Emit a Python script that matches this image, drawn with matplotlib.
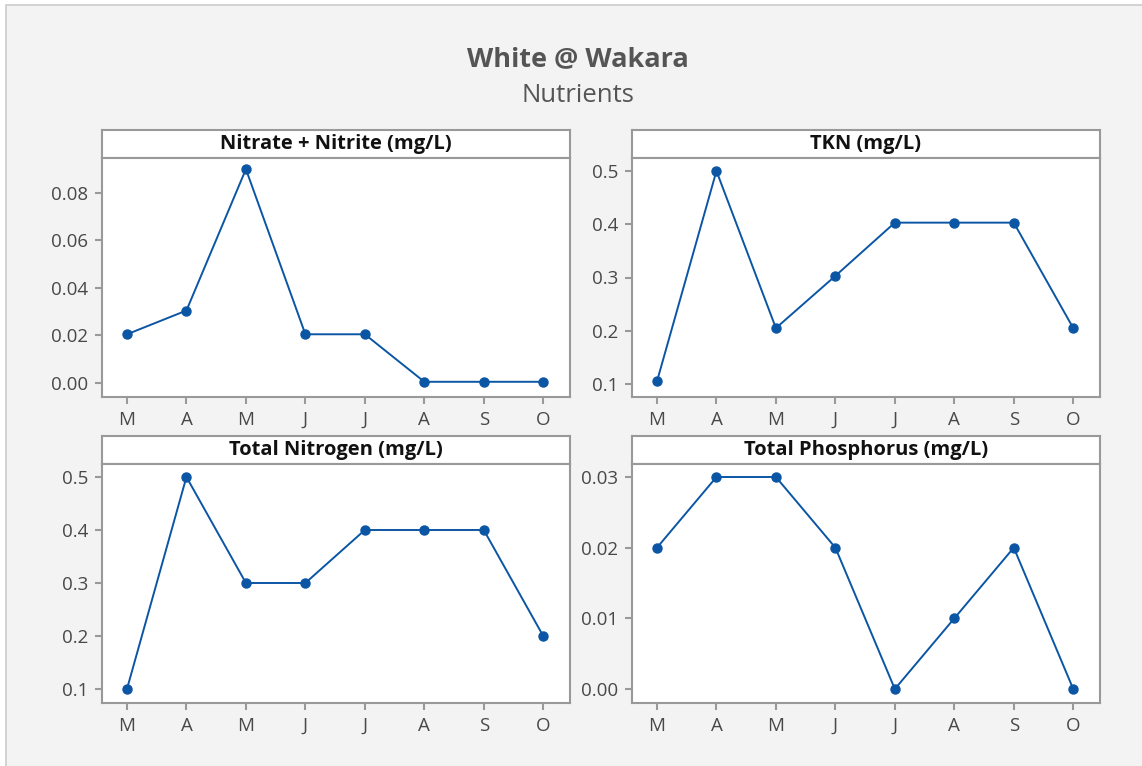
import matplotlib
matplotlib.use("Agg")
import matplotlib.pyplot as plt
from matplotlib.patches import Rectangle

plt.rcParams['font.family'] = ['Open Sans', 'DejaVu Sans']

months = ["M", "A", "M", "J", "J", "A", "S", "O"]
nitrate = [0.0205, 0.0305, 0.0900, 0.0205, 0.0205, 0.0005, 0.0005, 0.0005]
tkn = [0.105, 0.500, 0.205, 0.303, 0.403, 0.403, 0.403, 0.205]
total_n = [0.1, 0.5, 0.3, 0.3, 0.4, 0.4, 0.4, 0.2]
total_p = [0.02, 0.03, 0.03, 0.02, 0.0, 0.01, 0.02, 0.0]

titles = ["Nitrate + Nitrite (mg/L)", "TKN (mg/L)", "Total Nitrogen (mg/L)", "Total Phosphorus (mg/L)"]
series = [nitrate, tkn, total_n, total_p]
yticks = [[0.00, 0.02, 0.04, 0.06, 0.08], [0.1, 0.2, 0.3, 0.4, 0.5],
          [0.1, 0.2, 0.3, 0.4, 0.5], [0.00, 0.01, 0.02, 0.03]]
ytickfmt = ["{:.2f}", "{:.1f}", "{:.1f}", "{:.2f}"]
ylims = [(-0.0059, 0.0947), (0.0756, 0.5244), (0.0736, 0.5245), (-0.00198, 0.03184)]

W, H = 1142, 766
fig = plt.figure(figsize=(W / 100, H / 100), dpi=100)
fig.patch.set_facecolor("white")
fig.patches.append(Rectangle((6 / W, -0.1), 1.2, 1.1 - 5 / H, transform=fig.transFigure,
                             facecolor="#f3f3f3", edgecolor="#cccccc", linewidth=1.2, zorder=-10))

fig.text(578 / W, 1 - 59 / H, "White @ Wakara", ha="center", va="center",
         fontsize=19.5, fontweight="bold", color="#555555")
fig.text(578 / W, 1 - 96 / H, "Nutrients", ha="center", va="center",
         fontsize=18.5, color="#555555")

lefts = [102, 632, 102, 632]
tops = [130, 130, 436, 436]
pw = 468
hh = 28
ph = 239
grey = "#999999"
line_color = "#0b56a4"

for i in range(4):
    l, t = lefts[i], tops[i]
    # header
    hax = fig.add_axes([l / W, 1 - (t + hh) / H, pw / W, hh / H])
    hax.set_xticks([]); hax.set_yticks([])
    hax.set_facecolor("white")
    for s in hax.spines.values():
        s.set_color(grey); s.set_linewidth(1.5)
    hax.text(0.5, 0.5, titles[i], transform=hax.transAxes, ha="center", va="center",
             fontsize=14.5, fontweight="bold", color="#111111")
    # plot
    ax = fig.add_axes([l / W, 1 - (t + hh + ph) / H, pw / W, ph / H])
    ax.set_facecolor("white")
    x = list(range(len(months)))
    ax.plot(x, series[i], color=line_color, linewidth=1.4, marker="o", markersize=6.5)
    ax.set_xlim(-0.42, 7.45)
    ax.set_ylim(*ylims[i])
    ax.set_xticks(x)
    ax.set_xticklabels(months)
    ax.set_yticks(yticks[i])
    ax.set_yticklabels([ytickfmt[i].format(v) for v in yticks[i]])
    for s in ax.spines.values():
        s.set_color(grey); s.set_linewidth(1.5)
    ax.tick_params(axis="both", colors=grey, labelcolor="#484848", labelsize=13.5,
                   length=5, width=1.5, direction="out")
    ax.tick_params(axis="x", pad=5)
    ax.tick_params(axis="y", pad=5)

fig.savefig("out.png", dpi=100, facecolor=fig.get_facecolor())
